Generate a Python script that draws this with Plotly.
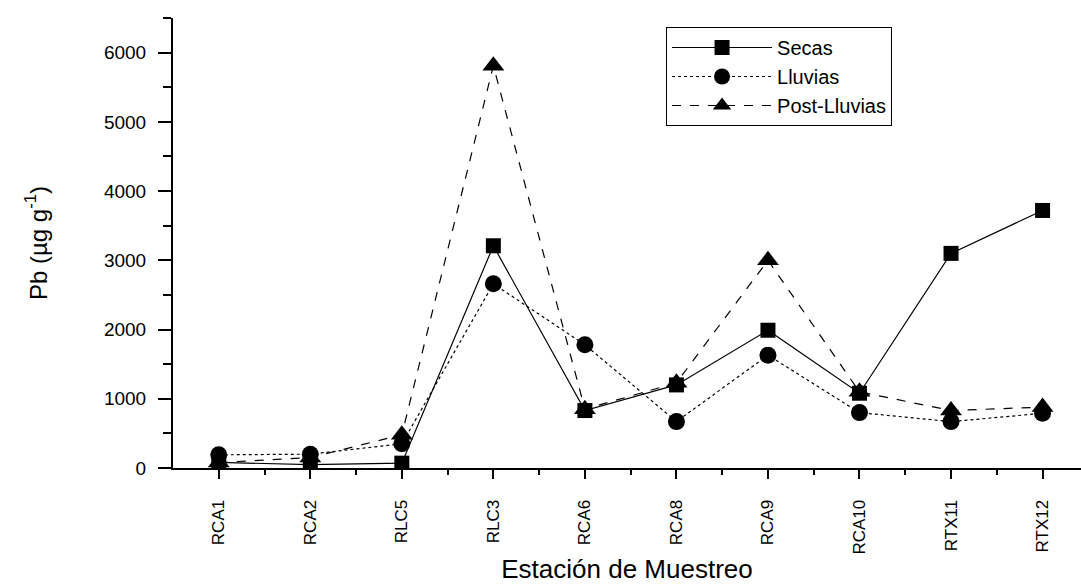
import plotly.graph_objects as go

estaciones = ["RCA1", "RCA2", "RLC5", "RLC3", "RCA6", "RCA8", "RCA9", "RCA10", "RTX11", "RTX12"]
secas = [80, 50, 70, 3210, 830, 1200, 1990, 1080, 3100, 3720]
lluvias = [190, 200, 350, 2660, 1780, 670, 1630, 800, 670, 790]
post_lluvias = [80, 150, 480, 5810, 850, 1230, 3000, 1100, 830, 880]

xpos = list(range(1, len(estaciones) + 1))

fig = go.Figure()
fig.add_trace(go.Scatter(
    x=xpos, y=secas, name="Secas", mode="lines+markers",
    line=dict(color="black", width=1.2, dash="solid"),
    marker=dict(symbol="square", size=15, color="black"),
))
fig.add_trace(go.Scatter(
    x=xpos, y=lluvias, name="Lluvias", mode="lines+markers",
    line=dict(color="black", width=1.2, dash="dot"),
    marker=dict(symbol="circle", size=17, color="black"),
))
fig.add_trace(go.Scatter(
    x=xpos, y=post_lluvias, name="Post-Lluvias", mode="lines+markers",
    line=dict(color="black", width=1.2, dash="dash"),
    marker=dict(symbol="triangle-up", size=19, color="black"),
))

fig.update_layout(
    width=1081, height=584,
    margin=dict(l=173, r=0, t=18, b=116),
    paper_bgcolor="white", plot_bgcolor="white",
    font=dict(family="Liberation Sans, Arial", color="black"),
    showlegend=True,
    legend=dict(
        x=0.543, y=0.98, xanchor="left", yanchor="top",
        bordercolor="black", borderwidth=1, bgcolor="white",
        font=dict(size=20), itemwidth=100, tracegroupgap=0,
    ),
    xaxis=dict(
        range=[0.5, 10.42],
        tickmode="array", tickvals=xpos, ticktext=estaciones,
        tickangle=-90, tickfont=dict(size=17),
        ticks="outside", ticklen=9, tickwidth=2, tickcolor="black",
        minor=dict(tickmode="array", tickvals=[i + 0.5 for i in range(1, 10)],
                   ticks="outside", ticklen=5, tickwidth=2, tickcolor="black"),
        showline=True, linecolor="black", linewidth=2,
        showgrid=False, zeroline=False,
        ticklabelstandoff=14,
        title=dict(text="Estación de Muestreo", font=dict(size=26), standoff=6),
    ),
    yaxis=dict(
        range=[0, 6500],
        tickvals=[0, 1000, 2000, 3000, 4000, 5000, 6000],
        tickfont=dict(size=19),
        ticks="outside", ticklen=13, tickwidth=2, tickcolor="black",
        minor=dict(tickvals=[500, 1500, 2500, 3500, 4500, 5500, 6500],
                   ticks="outside", ticklen=8, tickwidth=2, tickcolor="black"),
        showline=True, linecolor="black", linewidth=2,
        showgrid=False, zeroline=False,
        ticklabelstandoff=8,
        title=dict(text="Pb (µg g<sup>-1</sup>)", font=dict(size=24), standoff=50),
    ),
)

fig.write_html("out.html")
